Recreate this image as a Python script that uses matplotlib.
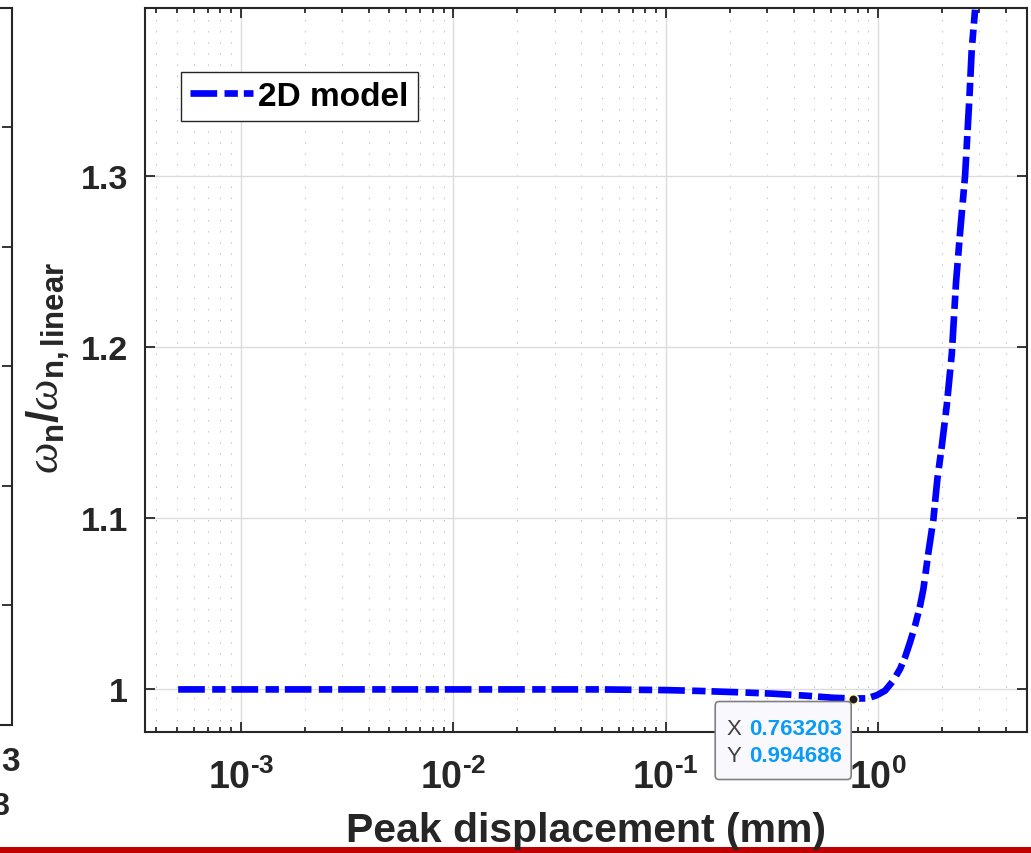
import numpy as np
import matplotlib
matplotlib.use("Agg")
import matplotlib.pyplot as plt
from matplotlib.ticker import FixedLocator, FuncFormatter, NullFormatter, LogLocator
from matplotlib.patches import FancyBboxPatch, Rectangle
from matplotlib.transforms import IdentityTransform

# ---------------- data ----------------
peak_disp_mm = [5.06e-4, 1e-3, 3e-3, 1e-2, 3e-2, 0.049, 0.1, 0.145, 0.224, 0.321,
                0.462, 0.614, 0.763203, 0.885, 0.986, 1.079, 1.180, 1.269, 1.340,
                1.414, 1.493, 1.577, 1.634, 1.725, 1.821, 1.901, 1.994, 2.105,
                2.223, 2.328, 2.432, 2.567, 2.689, 2.760, 2.861]
freq_ratio = [1.0, 1.0, 1.0, 1.0, 1.0, 1.0, 0.9996, 0.9991, 0.9983, 0.9975,
              0.9963, 0.9951, 0.994686, 0.99475, 0.9966, 0.9993, 1.0052, 1.0120,
              1.0189, 1.0276, 1.0373, 1.0490, 1.0587, 1.080, 1.0994, 1.123,
              1.142, 1.166, 1.196, 1.238, 1.267, 1.300, 1.345, 1.374, 1.397]
series_label = "2D model"
tip_x = 0.763203
tip_y = 0.994686
x_major_ticks = [1e-3, 1e-2, 1e-1, 1e0]
y_ticks = [1.0, 1.1, 1.2, 1.3]
y_tick_labels = ["1", "1.1", "1.2", "1.3"]

# ---------------- style ----------------
plt.rcParams['font.family'] = ['Liberation Sans', 'DejaVu Sans']
plt.rcParams['mathtext.fontset'] = 'custom'
plt.rcParams['mathtext.bf'] = 'Liberation Sans:bold'
plt.rcParams['mathtext.rm'] = 'Liberation Sans'
plt.rcParams['mathtext.it'] = 'Liberation Serif:italic'
plt.rcParams['lines.scale_dashes'] = False

W, H = 1031, 854
fig = plt.figure(figsize=(W / 100, H / 100), dpi=100)
fig.patch.set_facecolor('white')

dark = '#262626'

# main axes (pixel box: left 145, right 1027, top 9, bottom 732.7)
ax = fig.add_axes([145 / W, (H - 732.7) / H, 882 / W, 723.7 / H])
ax.set_xscale('log')
ax.set_xlim(10 ** -3.452, 10 ** 0.701)
ax.set_ylim(0.9753, 1.398)

ax.plot(peak_disp_mm, freq_ratio, color=(0, 0, 1), lw=4.8,
        dashes=(19.2, 5.3, 9.6, 4.3), dash_capstyle='butt',
        solid_capstyle='butt', label=series_label, zorder=3)

# ticks
ax.xaxis.set_major_locator(FixedLocator(x_major_ticks))
ax.xaxis.set_minor_locator(LogLocator(base=10, subs=np.arange(2, 10), numticks=20))


def _fmt(v, p):
    e = int(round(np.log10(v)))
    s = str(e).replace('-', '\u2010')
    return r'$\mathbf{10^{%s}}$' % s


ax.xaxis.set_major_formatter(FuncFormatter(_fmt))
ax.xaxis.set_minor_formatter(NullFormatter())
ax.set_yticks(y_ticks)
ax.set_yticklabels(y_tick_labels)

ax.tick_params(which='both', direction='in', top=True, right=True,
               color=dark, width=1.3)
ax.tick_params(which='major', length=7.2)
ax.tick_params(which='minor', length=3.6)
ax.tick_params(axis='x', which='major', pad=19, labelsize=27, labelcolor=dark)
ax.tick_params(axis='y', which='major', pad=12, labelsize=24.5, labelcolor=dark)
for lab in ax.get_yticklabels():
    lab.set_fontweight('bold')

for s in ax.spines.values():
    s.set_color(dark)
    s.set_linewidth(1.5)

ax.grid(which='major', color='#dcdcdc', lw=1.0, ls='-')
ax.grid(which='minor', axis='x', color='#c4c4c4', lw=0.8, ls=(0, (1, 7)))

# labels
ax.set_xlabel('Peak displacement (mm)', fontsize=29.5, fontweight='bold',
              color=dark, va='baseline')
ax.xaxis.set_label_coords(0.5, (H - 842 - (H - 732.7)) / 723.7)

fig.text(48 / W, (H - 368) / H,
         r'$\omega_{\mathbf{n}}\mathbf{/}\omega_{\mathbf{n,linear}}$',
         rotation=90, ha='center', va='center', fontsize=32, color=dark)

# legend
leg = ax.legend(loc='upper left', bbox_to_anchor=(181 / W, 1 - 73 / H),
                bbox_transform=fig.transFigure, borderaxespad=0,
                prop={'weight': 'bold', 'size': 24},
                handlelength=1.9, handletextpad=0.15, borderpad=0.27,
                fancybox=False, framealpha=1, edgecolor=dark)
leg.get_frame().set_linewidth(1.0)
for t in leg.get_texts():
    t.set_color('black')

# data tip
ax.plot([tip_x], [tip_y], 'o', ms=7, color='#1a1a1a', mec='#fff6c8', mew=1.3,
        zorder=5)
fig.canvas.draw()
px, py = ax.transData.transform((tip_x, tip_y))
box = FancyBboxPatch((px - 138, py - 81), 136, 78,
                     boxstyle='round,pad=0,rounding_size=4',
                     transform=IdentityTransform(), facecolor='#f9f9fd',
                     edgecolor='#808080', lw=1.2, zorder=6)
fig.patches.append(box)
box.set_figure(fig)
for dy, key, val in [(-29.5, 'X', f'{tip_x:.6f}'), (-57, 'Y', f'{tip_y:.6f}')]:
    fig.text(px - 127, py + dy, key, transform=IdentityTransform(),
             fontsize=16, color='#404040', ha='left', va='center', zorder=7)
    fig.text(px - 104, py + dy, val, transform=IdentityTransform(),
             fontsize=16, color='#0a9cf5', fontweight='bold', ha='left',
             va='center', zorder=7)

# partial neighbouring panel at the left edge
axl = fig.add_axes([-300 / W, (H - 726) / H, 312 / W, 717.5 / H])
axl.set_xlim(0, 1)
axl.set_ylim(0, 6)
axl.set_yticks(range(7))
axl.set_yticklabels([])
axl.set_xticks([])
axl.tick_params(axis='y', direction='in', left=False, right=True,
                length=7.2, width=1.3, color=dark)
for s in axl.spines.values():
    s.set_color(dark)
    s.set_linewidth(1.5)
fig.text(11 / W, (H - 763) / H, '3', ha='center', va='center', fontsize=24,
         fontweight='bold', color=dark)
fig.text(9 / W, (H - 807) / H, '3', ha='right', va='center', fontsize=22,
         fontweight='bold', color=dark)

# red band at bottom
fig.patches.append(Rectangle((0, 0), 1, 6 / H, transform=fig.transFigure,
                             facecolor='#c00000', edgecolor='none', zorder=-1))

fig.savefig('out.png', dpi=100)
